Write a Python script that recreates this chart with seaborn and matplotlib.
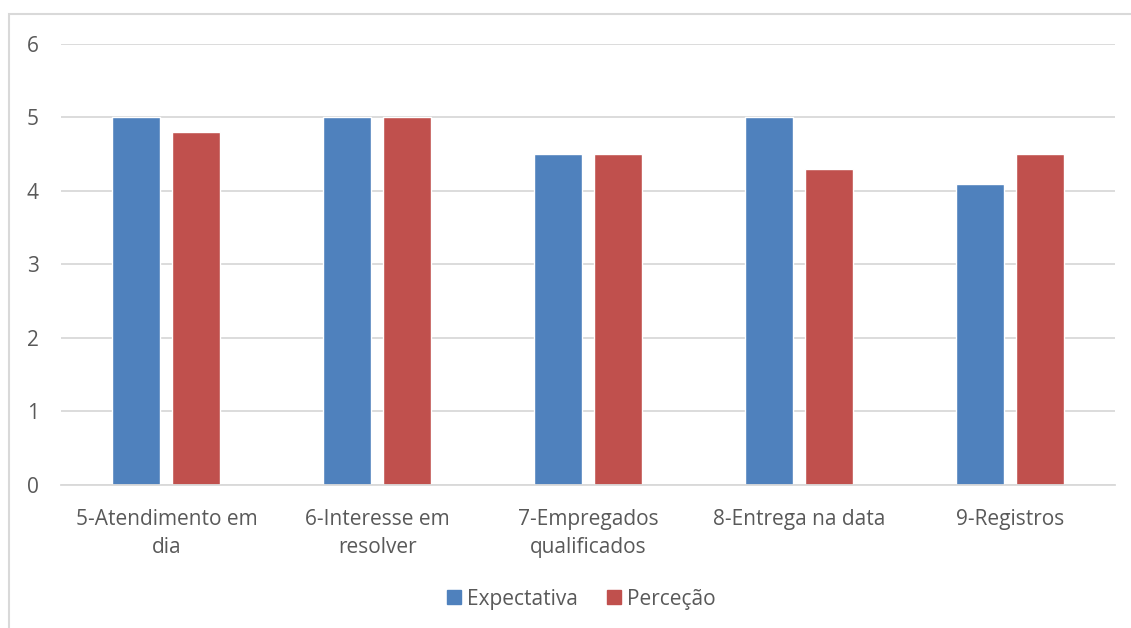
import matplotlib
matplotlib.use("Agg")
import matplotlib.pyplot as plt
import matplotlib.patches as mpatches
import seaborn as sns
import pandas as pd

categories = ["5-Atendimento em\ndia", "6-Interesse em\nresolver", "7-Empregados\nqualificados",
              "8-Entrega na data", "9-Registros"]
expectativa = [5.0, 5.0, 4.5, 5.0, 4.1]
percepcao = [4.8, 5.0, 4.5, 4.3, 4.5]
series_names = ["Expectativa", "Perceção"]
y_ticks = [0, 1, 2, 3, 4, 5, 6]

df = pd.DataFrame({
    "categoria": categories * 2,
    "valor": expectativa + percepcao,
    "serie": [series_names[0]] * len(categories) + [series_names[1]] * len(categories),
})

sns.set_theme(style="white")
plt.rcParams["font.family"] = ["Open Sans", "DejaVu Sans"]

text_color = "#595959"
grid_color = "#D9D9D9"
palette = {series_names[0]: "#4F81BD", series_names[1]: "#C0504D"}
font_size = 15

fig = plt.figure(figsize=(11.31, 6.28), dpi=100)
ax = fig.add_axes([0.0539, 0.2277, 0.932, 0.7023])

sns.barplot(data=df, x="categoria", y="valor", hue="serie", palette=palette,
            width=0.569, gap=0.2, saturation=1, ax=ax, legend=False)

ax.set_ylim(0, 6)
ax.set_yticks(y_ticks)
ax.set_xlim(-0.5, len(categories) - 0.5)
ax.yaxis.grid(True, color=grid_color, linewidth=1.3)
ax.set_axisbelow(True)
for side in ["top", "right", "left"]:
    ax.spines[side].set_visible(False)
ax.spines["bottom"].set_color(grid_color)
ax.spines["bottom"].set_linewidth(1.3)
ax.tick_params(axis="both", length=0, colors=text_color, labelsize=font_size)
ax.tick_params(axis="y", pad=16)
ax.tick_params(axis="x", pad=17)
ax.set_xlabel("")
ax.set_ylabel("")
for lbl in ax.get_xticklabels():
    lbl.set_linespacing(1.45)

handles = [mpatches.Patch(color=palette[s], label=s) for s in series_names]
fig.legend(handles=handles, loc="center", bbox_to_anchor=(0.514, 0.046), ncol=2,
           frameon=False, fontsize=font_size, labelcolor=text_color,
           handlelength=0.65, handleheight=0.65, handletextpad=0.3, columnspacing=1.4)

# outer chart frame
frame = mpatches.Rectangle((9 / 1131, -0.05), 1.2, 1 - 14 / 628 + 0.05,
                           transform=fig.transFigure, fill=False,
                           edgecolor=grid_color, linewidth=1.5, clip_on=False)
fig.patches.append(frame)

fig.savefig("out.png", dpi=100)
